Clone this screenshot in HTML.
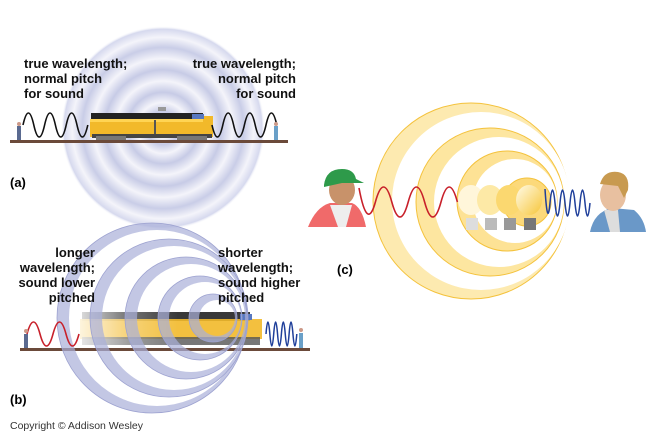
<!DOCTYPE html>
<html><head><meta charset="utf-8"><style>
html,body{margin:0;padding:0;background:#fff;width:656px;height:439px;overflow:hidden}
text{font-family:"Liberation Sans",Arial,sans-serif}
.l{font-size:13px;font-weight:bold;fill:#111}
</style></head><body>
<svg width="656" height="439" viewBox="0 0 656 439" xmlns="http://www.w3.org/2000/svg">
<defs>
<radialGradient id="ra" cx="163" cy="128" r="102" gradientUnits="userSpaceOnUse">
<stop offset="0" stop-color="#fff"/>
<stop offset="0.08" stop-color="#fff"/>
<stop offset="0.16" stop-color="#c7cbe6"/>
<stop offset="0.25" stop-color="#f4f4fa"/>
<stop offset="0.35" stop-color="#c7cbe6"/>
<stop offset="0.46" stop-color="#f4f4fa"/>
<stop offset="0.57" stop-color="#c7cbe6"/>
<stop offset="0.68" stop-color="#f4f4fa"/>
<stop offset="0.79" stop-color="#c9cde7"/>
<stop offset="0.89" stop-color="#f4f4fa"/>
<stop offset="0.97" stop-color="#d6d9ee"/>
<stop offset="1" stop-color="#fff" stop-opacity="0"/>
</radialGradient>
<linearGradient id="bulb" x1="0" y1="0" x2="1" y2="1">
<stop offset="0" stop-color="#fffbe8"/><stop offset="1" stop-color="#f7c63a"/>
</linearGradient>
<linearGradient id="fade" x1="0" x2="1">
<stop offset="0" stop-color="#fff" stop-opacity="0.85"/><stop offset="0.5" stop-color="#fff" stop-opacity="0.3"/><stop offset="1" stop-color="#fff" stop-opacity="0"/>
</linearGradient>
<mask id="rings">
<rect width="656" height="439" fill="black"/>
<circle cx="152" cy="318" r="95" fill="white"/>
<circle cx="157" cy="318" r="88" fill="black"/>
<circle cx="169" cy="318" r="79" fill="white"/>
<circle cx="174" cy="318" r="72" fill="black"/>
<circle cx="186" cy="318" r="61" fill="white"/>
<circle cx="191" cy="318" r="54" fill="black"/>
<circle cx="200" cy="318" r="42" fill="white"/>
<circle cx="205" cy="318" r="36" fill="black"/>
<circle cx="213" cy="318" r="24" fill="white"/>
<circle cx="217" cy="318" r="18" fill="black"/>
</mask>
</defs>

<!-- Panel A -->
<circle cx="163" cy="128" r="102" fill="url(#ra)"/>
<rect x="10" y="140" width="278" height="3" fill="#6b4a3a"/>
<g>
<rect x="91" y="113" width="112" height="8" fill="#222"/>
<rect x="90" y="119" width="123" height="18" fill="#f2b92a"/>
<rect x="90" y="119" width="123" height="3" fill="#ffd453"/>
<rect x="203" y="116" width="10" height="21" fill="#f2b92a"/>
<rect x="192" y="114" width="12" height="5" fill="#5878c0"/>
<rect x="154" y="120" width="2" height="15" fill="#555"/>
<rect x="92" y="134" width="120" height="4" fill="#444"/>
<rect x="96" y="136" width="30" height="4" fill="#777"/>
<rect x="177" y="136" width="30" height="4" fill="#777"/>
<rect x="158" y="107" width="8" height="4" fill="#999"/>
</g>
<path d="M23 125 q5.4 -24 10.8 0 t10.8 0 t10.8 0 t10.8 0 t10.8 0 t10.8 0" fill="none" stroke="#111" stroke-width="1.6"/>
<path d="M212 125 q5.4 24 10.8 0 t10.8 0 t10.8 0 t10.8 0 t10.8 0 t10.8 0" fill="none" stroke="#111" stroke-width="1.6"/>
<rect x="17" y="126" width="4" height="14" fill="#5a6a90"/><circle cx="19" cy="124" r="2" fill="#c98"/>
<rect x="274" y="126" width="4" height="14" fill="#6aa0c8"/><circle cx="276" cy="124" r="2" fill="#c98"/>
<text class="l" x="24" y="68">true wavelength;</text>
<text class="l" x="24" y="83">normal pitch</text>
<text class="l" x="24" y="98">for sound</text>
<text class="l" x="296" y="68" text-anchor="end">true wavelength;</text>
<text class="l" x="296" y="83" text-anchor="end">normal pitch</text>
<text class="l" x="296" y="98" text-anchor="end">for sound</text>
<text x="10" y="187" style="font-size:13px;font-weight:bold">(a)</text>

<!-- Panel B -->
<rect x="20" y="348" width="290" height="3" fill="#6b4a3a"/>
<g>
<rect x="82" y="312" width="168" height="9" fill="#222" opacity="0.9"/>
<rect x="80" y="319" width="182" height="20" fill="#f2b92a" opacity="0.9"/>
<rect x="240" y="314" width="12" height="6" fill="#5878c0"/>
<rect x="82" y="337" width="178" height="8" fill="#555" opacity="0.8"/>
<rect x="78" y="310" width="100" height="38" fill="url(#fade)"/>
</g>
<rect x="0" y="200" width="330" height="230" fill="#aab0da" opacity="0.7" mask="url(#rings)"/>
<g fill="none" stroke="#9da2d0" stroke-width="0.8">
<circle cx="152" cy="318" r="95"/><circle cx="169" cy="318" r="79"/><circle cx="186" cy="318" r="61"/><circle cx="200" cy="318" r="42"/><circle cx="213" cy="318" r="24"/>
</g>
<path d="M27 334 q6.5 -24 13 0 t13 0 t13 0 t13 0" fill="none" stroke="#c8202a" stroke-width="1.6"/>
<path d="M266 334 q1.9 -24 3.85 0 t3.85 0 t3.85 0 t3.85 0 t3.85 0 t3.85 0 t3.85 0 t3.85 0" fill="none" stroke="#1f3f9a" stroke-width="1.5"/>
<rect x="24" y="334" width="4" height="14" fill="#5a6a90"/><circle cx="26" cy="331" r="2" fill="#c98"/>
<rect x="299" y="333" width="4" height="15" fill="#6aa0c8"/><circle cx="301" cy="330" r="2" fill="#c98"/>
<text class="l" x="95" y="257" text-anchor="end">longer</text>
<text class="l" x="95" y="272" text-anchor="end">wavelength;</text>
<text class="l" x="95" y="287" text-anchor="end">sound lower</text>
<text class="l" x="95" y="302" text-anchor="end">pitched</text>
<text class="l" x="218" y="257">shorter</text>
<text class="l" x="218" y="272">wavelength;</text>
<text class="l" x="218" y="287">sound higher</text>
<text class="l" x="218" y="302">pitched</text>
<text x="10" y="404" style="font-size:13px;font-weight:bold">(b)</text>
<text x="10" y="429" style="font-size:10.5px;fill:#333">Copyright © Addison Wesley</text>

<!-- Panel C -->
<g stroke="#f4c23c" stroke-width="1">
<circle cx="471" cy="201" r="98" fill="#fdeab0"/>
<circle cx="481" cy="201" r="89" fill="#fff" stroke="none"/>
<circle cx="490" cy="202" r="74" fill="#fde6a0"/>
<circle cx="499" cy="202" r="65" fill="#fff" stroke="none"/>
<circle cx="507" cy="201" r="50" fill="#fde295"/>
<circle cx="515" cy="201" r="42" fill="#fff" stroke="none"/>
<circle cx="527" cy="202" r="24" fill="#fcd97a"/>
</g>
<g>
<ellipse cx="471" cy="200" rx="13" ry="15" fill="#fff6da"/><rect x="466" y="218" width="12" height="12" fill="#ddd"/>
<ellipse cx="490" cy="200" rx="13" ry="15" fill="#fde9a6"/><rect x="485" y="218" width="12" height="12" fill="#bbb"/>
<ellipse cx="509" cy="200" rx="13" ry="15" fill="#fbd870"/><rect x="504" y="218" width="12" height="12" fill="#999"/>
<ellipse cx="529" cy="200" rx="13" ry="15" fill="url(#bulb)"/><rect x="524" y="218" width="12" height="12" fill="#777"/>
</g>
<path d="M359 188 q8.2 44 16.4 14 t16.4 0 t16.4 0 t16.4 0 t16.4 0 t16.4 0" fill="none" stroke="#c8202a" stroke-width="1.6"/>
<path d="M545 189 q2.5 40 5 14 t5 0 t5 0 t5 0 t5 0 t5 0 t5 0 t5 0 t5 0" fill="none" stroke="#1f3f9a" stroke-width="1.5"/>
<path d="M308 227 q8 -20 22 -24 l22 0 q10 4 14 24 z" fill="#f06a6a"/>
<path d="M330 205 l8 22 l8 0 l6 -22 z" fill="#eee"/>
<ellipse cx="342" cy="190" rx="13" ry="15" fill="#c8926a"/>
<path d="M324 185 q2 -16 18 -16 q12 0 14 10 l8 4 l-22 0 l-18 4 z" fill="#2e9a4a"/>
<path d="M590 232 q4 -20 22 -24 l22 2 q10 8 12 22 z" fill="#6a98c8"/>
<path d="M604 210 l6 22 l10 0 l-2 -22 z" fill="#ddd"/>
<ellipse cx="613" cy="195" rx="13" ry="16" fill="#e8c0a0"/>
<path d="M600 184 q4 -14 18 -12 q12 2 10 18 l-4 8 l-6 -12 z" fill="#c89a50"/>
<text x="337" y="274" style="font-size:13px;font-weight:bold">(c)</text>
</svg>
</body></html>
